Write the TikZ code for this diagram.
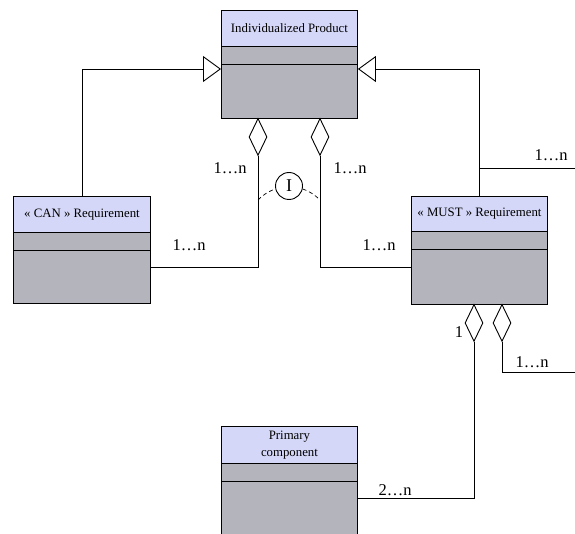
\documentclass[tikz,border=0pt]{standalone}
\usepackage{fontspec}
\setmainfont{Liberation Serif}
\usetikzlibrary{arrows.meta,shapes.geometric}
\definecolor{headblue}{RGB}{212,215,247}
\definecolor{bodygray}{RGB}{180,180,189}
\begin{document}
\begin{tikzpicture}[x=1pt,y=-1pt, line width=0.9pt,
 body/.style={draw, fill=bodygray, anchor=north west, inner sep=0pt, minimum width=136pt},
 head/.style={draw, fill=headblue, anchor=north west, inner sep=0pt, minimum width=136pt, align=center, font=\fontsize{12.8}{16.5}\selectfont},
 agg/.style={draw, fill=white, diamond, inner sep=0pt, minimum width=18pt, minimum height=37pt, anchor=north},
 mult/.style={font=\fontsize{16.5}{18}\selectfont, inner sep=0pt},
 inh/.style={-{Triangle[open,length=18pt,width=26pt]}},
 dsh/.style={dash pattern=on 4pt off 3pt, line width=0.7pt},
]
\useasboundingbox (0,0) rectangle (575,534);
% Individualized Product
\node[body, minimum height=108pt] (prod) at (221,10) {};
\node[head, minimum height=36pt] (prodh) at (221,10) {Individualized Product};
\draw (prod.west |- 0,64) -- (prod.east |- 0,64);
% CAN
\node[body, minimum width=137pt, minimum height=107pt] (can) at (13,196) {};
\node[head, minimum width=137pt, minimum height=36pt] (canh) at (13,196) {« CAN » Requirement};
\draw (can.west |- 0,250) -- (can.east |- 0,250);
% MUST
\node[body, minimum height=108pt] (must) at (411,196) {};
\node[head, minimum height=35pt] (musth) at (411,196) {« MUST » Requirement};
\draw (must.west |- 0,249) -- (must.east |- 0,249);
% Primary component
\node[body, minimum height=114pt] (prim) at (221,426) {};
\node[head, minimum height=37pt] (primh) at (221,426) {Primary\\component};
\draw (prim.west |- 0,481) -- (prim.east |- 0,481);
% inheritance
\draw[inh] (can.north) |- (prod.west |- 0,69);
\draw[inh] (must.north) |- (prod.east |- 0,69);
% aggregation diamonds
\node[agg] (dl) at (258,118) {};
\node[agg] (dr) at (320,118) {};
\node[agg] (dm1) at (474,304) {};
\node[agg] (dm2) at (502,304) {};
% connectors
\draw (dl.south) |- (can.east |- 0,267);
\draw (dr.south) |- (must.west |- 0,267);
\draw (dm1.south) |- (prim.east |- 0,498);
\coordinate (re1) at (575,168);
\coordinate (re2) at (575,372);
\draw (must.north |- re1) -- (re1);
\draw (dm2.south) |- (re2);
% interface circle
\node[draw, circle, fill=white, minimum size=27pt, inner sep=0pt, font=\fontsize{18}{20}\selectfont] (ci) at (289,186) {I};
\draw[dsh] (dl.south |- 0,200) to[bend left=12] (ci);
\draw[dsh] (ci) to[bend left=12] (dr.south |- 0,200);
% multiplicities
\node[mult] (m1) at (230,168) {1…n};
\node[mult] (m2) at (350,168) {1…n};
\node[mult] (m3) at (189,245) {1…n};
\node[mult] (m4) at (379,245) {1…n};
\node[mult] (m5) at (551,155) {1…n};
\node[mult] (m6) at (459,332) {1};
\node[mult] (m7) at (532,362) {1…n};
\node[mult] (m8) at (395,490) {2…n};
\end{tikzpicture}
\end{document}
